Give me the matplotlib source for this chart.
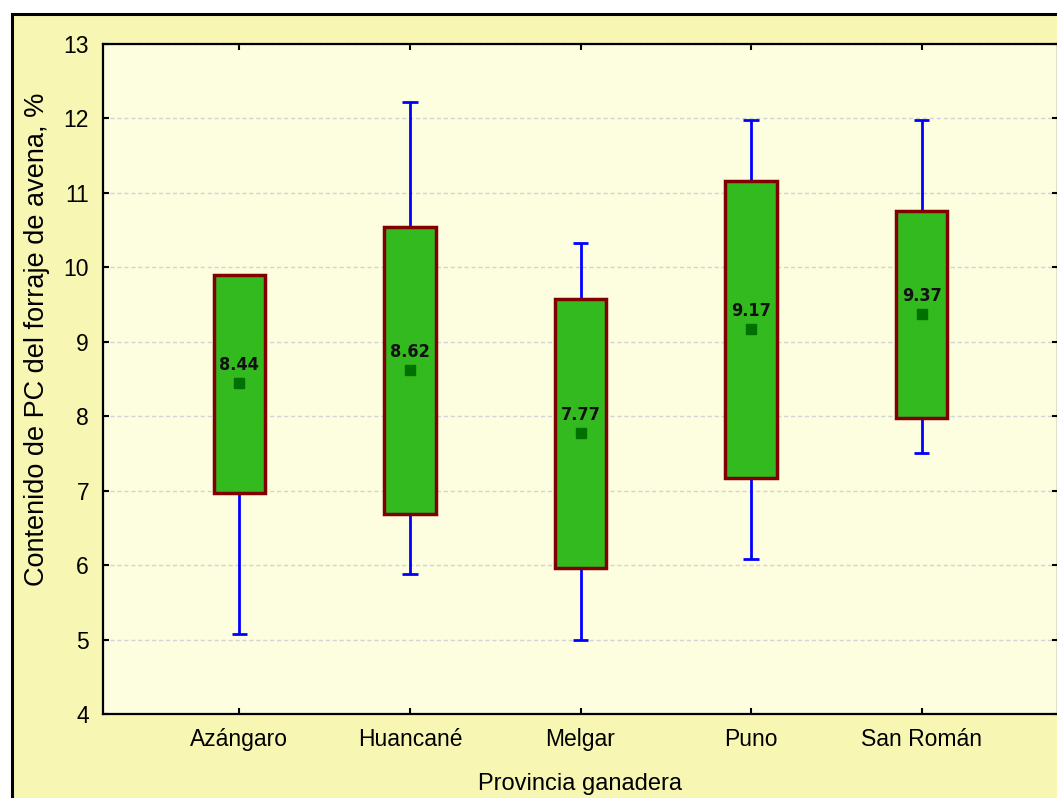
import numpy as np
import matplotlib.pyplot as plt
from matplotlib.patches import Rectangle

provincias = ["Azángaro", "Huancané", "Melgar", "Puno", "San Román"]
medias = [8.44, 8.62, 7.77, 9.17, 9.37]
caja_inf = [6.97, 6.69, 5.96, 7.17, 7.97]
caja_sup = [9.90, 10.54, 9.58, 11.16, 10.76]
bigote_inf = [5.07, 5.88, 5.00, 6.08, 7.50]
bigote_sup = [9.90, 12.22, 10.33, 11.98, 11.98]
etiquetas = ["8.44", "8.62", "7.77", "9.17", "9.37"]

W, H = 1057, 798
fig = plt.figure(figsize=(W / 100, H / 100), dpi=100, facecolor="white")

# outer frame
frame = Rectangle((12 / W, -0.05), 1.1, (H - 14) / H + 0.05, transform=fig.transFigure,
                  facecolor="#f7f7b3", edgecolor="black", linewidth=2.2, zorder=-5)
fig.patches.append(frame)

ax = fig.add_axes([103 / W, 84 / H, (1058 - 103) / W, 670 / H])
ax.set_facecolor("#fdfde0")

x = np.arange(1, len(provincias) + 1)
ax.set_xlim(0.2, 5.8)
ax.set_ylim(4, 13)

ax.set_yticks(range(4, 14))
ax.grid(axis="y", color="#d4d4d4", linestyle=(0, (3, 2)), linewidth=1.0, zorder=0)
ax.set_axisbelow(True)

caja = np.array(caja_sup) - np.array(caja_inf)
ax.vlines(x, bigote_inf, caja_inf, color="#0000ff", linewidth=2, zorder=2)
ax.vlines(x, caja_sup, bigote_sup, color="#0000ff", linewidth=2, zorder=2)
ax.hlines(bigote_inf, x - 0.045, x + 0.045, color="#0000ff", linewidth=2, zorder=2)
ax.hlines(bigote_sup, x - 0.045, x + 0.045, color="#0000ff", linewidth=2, zorder=2)
ax.bar(x, caja, bottom=caja_inf, width=0.3, color="#33ba1f", edgecolor="#800000",
       linewidth=2.5, zorder=3)
ax.plot(x, medias, "s", color="#007000", markersize=7.5, zorder=4)
for xi, m, t in zip(x, medias, etiquetas):
    ax.annotate(t, (xi, m), xytext=(0, 6.5), textcoords="offset points", ha="center",
                va="bottom", fontsize=13, fontweight="bold", fontstretch="condensed",
                family=["DejaVu Sans"], color="#111111", zorder=5)

ax.set_xticks(x)
ax.set_xticklabels(provincias)
ax.tick_params(direction="in", length=4, width=1.5, top=True, right=True,
               labelsize=16.5, pad=10, colors="black")
for lab in ax.get_xticklabels() + ax.get_yticklabels():
    lab.set_family("Liberation Sans")
ax.tick_params(axis="y", pad=10)

for s in ax.spines.values():
    s.set_linewidth(1.6)

ax.set_ylabel("Contenido de PC del forraje de avena, %", fontsize=19.5, family="Liberation Sans")
ax.set_xlabel("Provincia ganadera", fontsize=17, family="Liberation Sans")
ax.yaxis.set_label_coords((37 - 103) / 955, (714 - 339) / 670)
ax.xaxis.set_label_coords(0.5, (714 - 784) / 670)
ax.xaxis.label.set_va("center")
ax.yaxis.label.set_va("center")

fig.savefig("out.png", dpi=100, facecolor="white")
